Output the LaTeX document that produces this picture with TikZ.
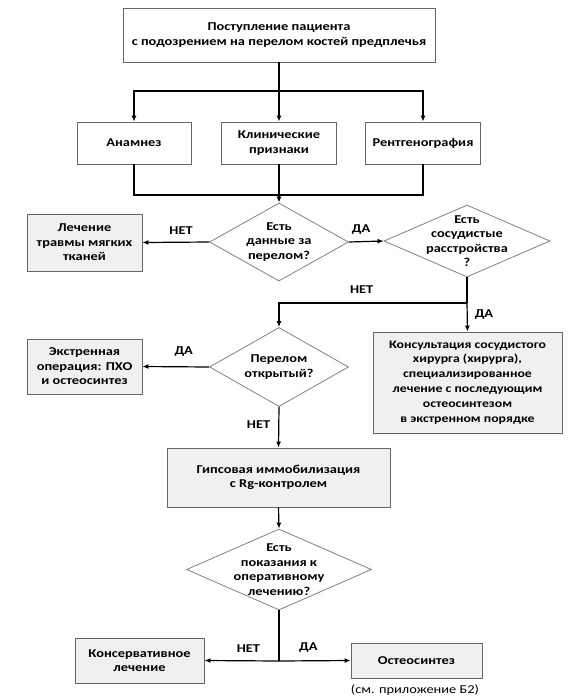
\documentclass[tikz,border=0pt]{standalone}
\usepackage{fontspec}
\setmainfont{Carlito}[FakeStretch=1.2]
\usetikzlibrary{shapes.geometric,arrows.meta}
\tikzset{
  box/.style={draw=black!60, line width=0.8pt, inner sep=0pt, align=center,
    font=\fontsize{12}{14.5}\selectfont\bfseries},
  graybox/.style={box, fill=black!6},
  decision/.style={diamond, draw=black!50, line width=0.8pt, inner sep=-20pt,
    align=center, font=\fontsize{12}{14.5}\selectfont\bfseries},
  conn/.style={line width=1.2pt},
  arr/.style={conn, -{Latex[length=6pt,width=5pt]}},
  lbl/.style={font=\fontsize{12}{14.5}\selectfont\bfseries, inner sep=1pt},
}
\begin{document}
\begin{tikzpicture}[x=1pt, y=-1pt]
  \useasboundingbox (0,0) rectangle (585,697);
  % Start and examination
  \node[box, minimum width=312pt, minimum height=54pt] (start) at (279,35)
    {Поступление пациента\\с подозрением на перелом костей предплечья};
  \node[box, minimum width=114pt, minimum height=42pt] (anam) at (134,143) {Анамнез};
  \node[box, minimum width=115pt, minimum height=42pt] (klin) at (279,143) {Клинические\\признаки};
  \node[box, minimum width=115pt, minimum height=42pt] (rentg) at (423,143) {Рентгенография};
  \coordinate (j1) at (279,91);
  \coordinate (j2) at (279,195);
  \draw[conn] (start) -- (j1);
  \draw[arr] (j1) -| (anam.north);
  \draw[arr] (j1) -- (klin.north);
  \draw[arr] (j1) -| (rentg.north);
  % First decision
  \node[decision, minimum width=139pt, minimum height=78pt] (frac) at (279,242)
    {Есть\\данные за\\перелом?};
  \draw[conn] (anam.south) |- (j2) -| (rentg.south);
  \draw[arr] (klin.south) -- (frac.north);
  \node[graybox, minimum width=115pt, minimum height=57pt] (soft) at (84.5,242.5)
    {Лечение\\травмы мягких\\тканей};
  \draw[arr] (frac.west) -- node[lbl, pos=0.42, above=6pt] {НЕТ} (soft.east);
  % Vascular disorders
  \node[decision, minimum width=166pt, minimum height=72pt] (vas) at (467,241)
    {Есть\\сосудистые\\расстройства\\?};
  \draw[arr] (frac.east) -- node[lbl, pos=0.35, above=6pt] {ДА} (vas.west);
  \node[graybox, minimum width=189pt, minimum height=101pt,
    font=\fontsize{11.5}{14.9}\selectfont\bfseries] (vasc) at (467.5,382.5)
    {Консультация сосудистого\\хирурга (хирурга),\\специализированное\\лечение с последующим\\остеосинтезом\\в экстренном порядке};
  \coordinate (j3) at (467,303);
  \draw[conn] (vas.south) -- (j3);
  \draw[arr] (j3) -- node[lbl, pos=0.4, right=6pt] {ДА} (vasc.north);
  % Open fracture
  \node[decision, minimum width=139pt, minimum height=79pt] (open) at (279,367)
    {Перелом\\открытый?};
  \draw[arr] (j3) -| node[lbl, pos=0.28, above=8pt] {НЕТ} (open.north);
  \node[graybox, minimum width=115pt, minimum height=55pt] (urgent) at (84.5,366.5)
    {Экстренная\\операция: ПХО\\и остеосинтез};
  \draw[arr] (open.west) -- node[lbl, pos=0.38, above=9pt] {ДА} (urgent.east);
  \node[graybox, minimum width=223pt, minimum height=59pt] (gips) at (278.5,477.5)
    {Гипсовая иммобилизация\\с Rg-контролем};
  \draw[arr] (open.south) -- node[lbl, pos=0.44, left=7pt] {НЕТ} (gips.north);
  % Indications for surgery
  \node[decision, minimum width=185pt, minimum height=81pt] (oper) at (279,569.5)
    {Есть\\показания к\\оперативному\\лечению?};
  \draw[arr] (gips.south) -- (oper.north);
  \node[graybox, minimum width=129pt, minimum height=45pt] (cons) at (139.5,660.5)
    {Консервативное\\лечение};
  \node[graybox, minimum width=131pt, minimum height=35pt] (osteo) at (416.5,660.5)
    {Остеосинтез};
  \node[font=\fontsize{12}{14.5}\selectfont, inner sep=0pt] (note) at (415,690)
    {(см. приложение Б2)};
  \coordinate (j4) at (279,661);
  \draw[conn] (oper.south) -- (j4);
  \draw[arr] (j4) -- node[lbl, pos=0.41, above=7pt] {НЕТ} (cons.east);
  \draw[arr] (j4) -- node[lbl, pos=0.41, above=7pt] {ДА} (osteo.west);
\end{tikzpicture}
\end{document}
